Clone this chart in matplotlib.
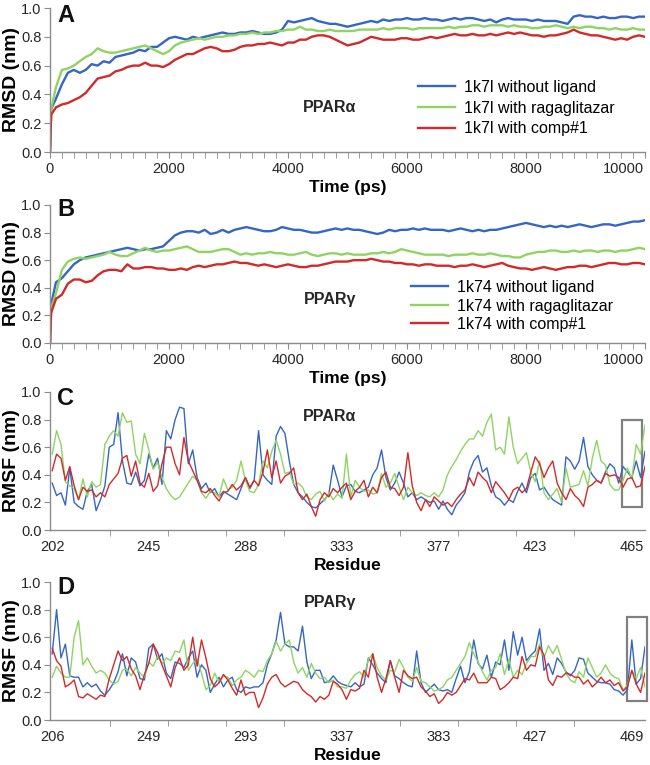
import numpy as np
import matplotlib
matplotlib.use("Agg")
import matplotlib.pyplot as plt
from matplotlib.patches import Rectangle
from matplotlib.ticker import MultipleLocator, FixedLocator, FuncFormatter

plt.rcParams['font.family'] = ['Liberation Sans', 'DejaVu Sans']

# ---------------- data ----------------
time_ps = np.concatenate([[0, 20], np.arange(100, 10001, 100)])

a_without = [0.0, 0.30, 0.37, 0.47, 0.55, 0.57, 0.55, 0.57, 0.61, 0.60, 0.63, 0.62,
             0.66, 0.67, 0.68, 0.69, 0.71, 0.70, 0.73, 0.73, 0.76, 0.79,
             0.80, 0.79, 0.78, 0.80, 0.79, 0.80, 0.81, 0.82, 0.83,
             0.82, 0.82, 0.83, 0.83, 0.84, 0.83, 0.82, 0.82, 0.83, 0.85,
             0.91, 0.90, 0.91, 0.92, 0.93, 0.91, 0.90, 0.89, 0.89, 0.88,
             0.87, 0.88, 0.89, 0.90, 0.91, 0.90, 0.92, 0.91, 0.92, 0.92,
             0.93, 0.92, 0.92, 0.93, 0.92, 0.92, 0.91, 0.92, 0.93, 0.92,
             0.93, 0.93, 0.92, 0.91, 0.92, 0.90, 0.92, 0.93, 0.92, 0.92,
             0.92, 0.91, 0.92, 0.91, 0.91, 0.91, 0.90, 0.89, 0.94, 0.95,
             0.94, 0.94, 0.93, 0.94, 0.93, 0.93, 0.94, 0.94, 0.93, 0.94, 0.94]
a_raga = [0.0, 0.30, 0.45, 0.57, 0.58, 0.60, 0.63, 0.66, 0.68, 0.72, 0.70, 0.69,
          0.69, 0.70, 0.71, 0.72, 0.73, 0.74, 0.72, 0.70, 0.68, 0.70,
          0.74, 0.76, 0.77, 0.78, 0.79, 0.78, 0.79, 0.80, 0.80,
          0.81, 0.81, 0.82, 0.82, 0.83, 0.82, 0.83, 0.83, 0.84, 0.84,
          0.85, 0.85, 0.87, 0.85, 0.85, 0.84, 0.84, 0.85, 0.84, 0.84,
          0.84, 0.84, 0.85, 0.85, 0.85, 0.85, 0.86, 0.85, 0.86, 0.86,
          0.86, 0.85, 0.86, 0.86, 0.86, 0.86, 0.86, 0.87, 0.86, 0.87,
          0.87, 0.88, 0.88, 0.87, 0.88, 0.88, 0.88, 0.87, 0.88, 0.87,
          0.87, 0.86, 0.86, 0.87, 0.87, 0.88, 0.87, 0.86, 0.87, 0.86,
          0.87, 0.87, 0.86, 0.86, 0.85, 0.86, 0.85, 0.85, 0.86, 0.85, 0.85]
a_comp = [0.0, 0.26, 0.31, 0.33, 0.34, 0.36, 0.38, 0.41, 0.46, 0.51, 0.52, 0.53,
          0.56, 0.57, 0.59, 0.60, 0.60, 0.62, 0.60, 0.60, 0.59, 0.61,
          0.64, 0.66, 0.68, 0.68, 0.70, 0.72, 0.73, 0.72, 0.70,
          0.70, 0.71, 0.73, 0.74, 0.74, 0.75, 0.75, 0.76, 0.75, 0.74,
          0.76, 0.76, 0.78, 0.78, 0.80, 0.81, 0.81, 0.80, 0.78, 0.76,
          0.74, 0.75, 0.76, 0.78, 0.80, 0.79, 0.78, 0.78, 0.78, 0.79,
          0.79, 0.78, 0.78, 0.79, 0.80, 0.79, 0.80, 0.81, 0.82, 0.81,
          0.81, 0.82, 0.81, 0.81, 0.82, 0.81, 0.82, 0.83, 0.82, 0.83,
          0.82, 0.81, 0.81, 0.80, 0.81, 0.81, 0.82, 0.83, 0.85, 0.83,
          0.82, 0.81, 0.81, 0.80, 0.79, 0.78, 0.79, 0.78, 0.80, 0.81, 0.80]

b_without = [0.0, 0.28, 0.44, 0.47, 0.52, 0.57, 0.60, 0.62, 0.63, 0.64, 0.65, 0.66,
             0.67, 0.68, 0.69, 0.68, 0.67, 0.68, 0.68, 0.69, 0.70, 0.74,
             0.78, 0.80, 0.81, 0.81, 0.80, 0.82, 0.79, 0.80, 0.82,
             0.80, 0.82, 0.83, 0.84, 0.83, 0.82, 0.81, 0.81, 0.82, 0.84,
             0.83, 0.82, 0.82, 0.81, 0.80, 0.80, 0.81, 0.82, 0.83, 0.82,
             0.83, 0.82, 0.82, 0.81, 0.80, 0.79, 0.80, 0.82, 0.81, 0.82,
             0.82, 0.83, 0.82, 0.83, 0.82, 0.82, 0.82, 0.81, 0.82, 0.83,
             0.82, 0.81, 0.82, 0.81, 0.82, 0.82, 0.83, 0.84, 0.85, 0.86,
             0.87, 0.86, 0.85, 0.84, 0.85, 0.84, 0.85, 0.84, 0.85, 0.86,
             0.85, 0.84, 0.85, 0.86, 0.86, 0.85, 0.86, 0.87, 0.88, 0.88, 0.89]
b_raga = [0.0, 0.25, 0.36, 0.53, 0.59, 0.61, 0.62, 0.61, 0.62, 0.63, 0.64, 0.66,
          0.64, 0.63, 0.63, 0.65, 0.67, 0.69, 0.67, 0.66, 0.67, 0.67,
          0.68, 0.69, 0.70, 0.68, 0.66, 0.66, 0.66, 0.67, 0.68,
          0.68, 0.66, 0.64, 0.65, 0.64, 0.65, 0.65, 0.66, 0.65, 0.65,
          0.64, 0.64, 0.65, 0.66, 0.64, 0.63, 0.64, 0.65, 0.65, 0.64,
          0.65, 0.64, 0.64, 0.64, 0.65, 0.65, 0.66, 0.65, 0.66, 0.68,
          0.67, 0.66, 0.65, 0.64, 0.64, 0.64, 0.64, 0.63, 0.64, 0.64,
          0.64, 0.65, 0.64, 0.64, 0.65, 0.64, 0.63, 0.63, 0.62, 0.62,
          0.64, 0.65, 0.66, 0.66, 0.67, 0.67, 0.66, 0.66, 0.67, 0.66,
          0.67, 0.67, 0.66, 0.67, 0.67, 0.66, 0.67, 0.67, 0.68, 0.69, 0.68]
b_comp = [0.0, 0.22, 0.32, 0.35, 0.43, 0.46, 0.46, 0.44, 0.45, 0.49, 0.52, 0.53,
          0.53, 0.52, 0.57, 0.54, 0.54, 0.55, 0.55, 0.54, 0.54, 0.53,
          0.53, 0.54, 0.53, 0.55, 0.56, 0.55, 0.56, 0.57, 0.57,
          0.58, 0.59, 0.58, 0.58, 0.57, 0.56, 0.57, 0.56, 0.55, 0.56,
          0.57, 0.56, 0.55, 0.55, 0.56, 0.56, 0.57, 0.58, 0.59, 0.59,
          0.59, 0.60, 0.60, 0.60, 0.61, 0.60, 0.59, 0.59, 0.58, 0.58,
          0.57, 0.57, 0.56, 0.57, 0.57, 0.56, 0.56, 0.56, 0.55, 0.56,
          0.56, 0.57, 0.56, 0.55, 0.56, 0.57, 0.58, 0.56, 0.55, 0.54,
          0.54, 0.53, 0.54, 0.55, 0.54, 0.53, 0.54, 0.55, 0.55, 0.56,
          0.56, 0.55, 0.56, 0.57, 0.58, 0.58, 0.57, 0.57, 0.58, 0.58, 0.57]

# residue index (every 2nd residue plotted), tick labels
res_idx = np.arange(0, 271, 2)
c_labels = ['202', '245', '288', '333', '377', '423', '465']
d_labels = ['206', '249', '293', '337', '383', '427', '469']

c_without = [0.34, 0.25, 0.27, 0.18, 0.45, 0.20, 0.17, 0.15, 0.28, 0.33, 0.14, 0.22,
             0.32, 0.60, 0.62, 0.85, 0.50, 0.34, 0.33, 0.42, 0.32, 0.36, 0.55, 0.45,
             0.52, 0.33, 0.72, 0.66, 0.80, 0.89, 0.88, 0.48, 0.58, 0.38, 0.30, 0.34,
             0.27, 0.30, 0.24, 0.28, 0.26, 0.24, 0.22, 0.30, 0.38, 0.30, 0.36, 0.72,
             0.40, 0.36, 0.33, 0.68, 0.75, 0.70, 0.50, 0.33, 0.27, 0.24, 0.20, 0.17,
             0.16, 0.19, 0.22, 0.26, 0.47, 0.36, 0.24, 0.32,
             0.33, 0.28, 0.27, 0.29, 0.31, 0.40, 0.45, 0.58, 0.38, 0.29, 0.34, 0.42,
             0.34, 0.24, 0.27, 0.22, 0.24, 0.22, 0.20, 0.21, 0.15, 0.21, 0.15, 0.11,
             0.18, 0.22, 0.27, 0.42, 0.50, 0.54, 0.42, 0.45, 0.32, 0.24, 0.22, 0.18,
             0.22, 0.20, 0.28, 0.34, 0.27, 0.38, 0.41, 0.29, 0.31, 0.26, 0.22, 0.20,
             0.18, 0.53, 0.50, 0.44, 0.50, 0.67, 0.46, 0.40, 0.36, 0.34, 0.42, 0.48,
             0.45, 0.34, 0.46, 0.42, 0.38, 0.50, 0.38, 0.57]
c_raga = [0.55, 0.72, 0.62, 0.35, 0.32, 0.30, 0.22, 0.37, 0.24, 0.35, 0.31, 0.33,
          0.62, 0.68, 0.72, 0.68, 0.85, 0.78, 0.79, 0.55, 0.48, 0.70, 0.58, 0.44,
          0.49, 0.38, 0.30, 0.25, 0.22, 0.24, 0.29, 0.34, 0.39, 0.36, 0.27, 0.23,
          0.28, 0.27, 0.24, 0.37, 0.29, 0.31, 0.36, 0.50, 0.36, 0.28, 0.27, 0.33,
          0.50, 0.45, 0.57, 0.65, 0.55, 0.41, 0.42, 0.33, 0.34, 0.31, 0.24, 0.22,
          0.26, 0.28, 0.21, 0.27, 0.22, 0.26, 0.23, 0.55,
          0.24, 0.36, 0.31, 0.28, 0.29, 0.26, 0.27, 0.41, 0.31, 0.34, 0.41, 0.31,
          0.22, 0.31, 0.27, 0.25, 0.27, 0.25, 0.24, 0.27, 0.24, 0.29, 0.40, 0.46,
          0.51, 0.57, 0.62, 0.66, 0.66, 0.72, 0.68, 0.78, 0.84, 0.58, 0.60, 0.55,
          0.82, 0.60, 0.48, 0.52, 0.56, 0.42, 0.35, 0.50, 0.27, 0.22, 0.26, 0.30,
          0.20, 0.45, 0.31, 0.32, 0.33, 0.43, 0.32, 0.52, 0.65, 0.50, 0.47, 0.33,
          0.29, 0.29, 0.36, 0.45, 0.37, 0.62, 0.55, 0.76]
c_comp = [0.43, 0.55, 0.52, 0.36, 0.46, 0.32, 0.22, 0.31, 0.28, 0.29, 0.24, 0.27,
          0.24, 0.33, 0.37, 0.41, 0.52, 0.54, 0.39, 0.50, 0.34, 0.31, 0.41, 0.28,
          0.32, 0.48, 0.60, 0.60, 0.48, 0.40, 0.67, 0.50, 0.43, 0.36, 0.28, 0.27,
          0.30, 0.25, 0.21, 0.27, 0.28, 0.33, 0.29, 0.32, 0.38, 0.31, 0.36, 0.32,
          0.42, 0.58, 0.38, 0.50, 0.34, 0.39, 0.41, 0.45, 0.27, 0.22, 0.26, 0.17,
          0.10, 0.22, 0.27, 0.24, 0.30, 0.27, 0.31, 0.34,
          0.22, 0.28, 0.31, 0.36, 0.24, 0.31, 0.27, 0.38, 0.42, 0.31, 0.30, 0.25,
          0.31, 0.56, 0.32, 0.20, 0.14, 0.22, 0.17, 0.24, 0.21, 0.18, 0.20, 0.17,
          0.22, 0.26, 0.29, 0.38, 0.32, 0.42, 0.38, 0.35, 0.27, 0.35, 0.31, 0.27,
          0.22, 0.29, 0.31, 0.27, 0.30, 0.42, 0.53, 0.48, 0.38, 0.45, 0.50, 0.34,
          0.27, 0.22, 0.30, 0.25, 0.22, 0.17, 0.31, 0.33, 0.36, 0.34, 0.41, 0.39,
          0.40, 0.38, 0.31, 0.37, 0.38, 0.31, 0.32, 0.46]

d_without = [0.48, 0.80, 0.45, 0.55, 0.32, 0.31, 0.31, 0.24, 0.27, 0.24, 0.26, 0.21,
             0.18, 0.22, 0.27, 0.35, 0.48, 0.32, 0.45, 0.42, 0.30, 0.29, 0.52, 0.55,
             0.44, 0.48, 0.34, 0.30, 0.42, 0.41, 0.38, 0.45, 0.50, 0.31, 0.40, 0.36,
             0.20, 0.26, 0.31, 0.24, 0.29, 0.31, 0.22, 0.20, 0.24, 0.23, 0.24, 0.24,
             0.27, 0.40, 0.48, 0.58, 0.78, 0.55, 0.53, 0.53, 0.50, 0.68, 0.42, 0.30,
             0.36, 0.36, 0.27, 0.28, 0.32, 0.28, 0.26, 0.25,
             0.24, 0.27, 0.24, 0.26, 0.45, 0.40, 0.34, 0.30, 0.27, 0.43, 0.32, 0.30,
             0.27, 0.25, 0.24, 0.50, 0.27, 0.20, 0.23, 0.26, 0.22, 0.21, 0.22, 0.20,
             0.30, 0.39, 0.27, 0.35, 0.58, 0.41, 0.37, 0.47, 0.31, 0.42, 0.40, 0.58,
             0.36, 0.64, 0.47, 0.60, 0.43, 0.47, 0.50, 0.66, 0.36, 0.41, 0.33, 0.45,
             0.41, 0.35, 0.32, 0.36, 0.45, 0.44, 0.34, 0.31, 0.28, 0.27, 0.27, 0.26,
             0.22, 0.21, 0.18, 0.22, 0.58, 0.26, 0.30, 0.53]
d_raga = [0.31, 0.39, 0.34, 0.31, 0.31, 0.60, 0.72, 0.40, 0.45, 0.39, 0.34, 0.36,
          0.34, 0.29, 0.26, 0.28, 0.36, 0.37, 0.32, 0.38, 0.34, 0.31, 0.42, 0.39,
          0.46, 0.41, 0.45, 0.43, 0.50, 0.49, 0.58, 0.36, 0.41, 0.44, 0.34, 0.22,
          0.25, 0.34, 0.27, 0.32, 0.31, 0.25, 0.29, 0.31, 0.36, 0.34, 0.31, 0.36,
          0.35, 0.43, 0.48, 0.57, 0.50, 0.55, 0.58, 0.42, 0.34, 0.38, 0.31, 0.41,
          0.34, 0.30, 0.31, 0.27, 0.29, 0.24, 0.24, 0.23,
          0.29, 0.33, 0.35, 0.31, 0.44, 0.48, 0.38, 0.32, 0.29, 0.36, 0.35, 0.44,
          0.38, 0.31, 0.28, 0.38, 0.28, 0.27, 0.24, 0.21, 0.22, 0.24, 0.29, 0.31,
          0.36, 0.41, 0.46, 0.56, 0.48, 0.42, 0.35, 0.29, 0.36, 0.38, 0.48, 0.33,
          0.44, 0.31, 0.36, 0.33, 0.41, 0.46, 0.46, 0.55, 0.45, 0.54, 0.48, 0.54,
          0.44, 0.34, 0.29, 0.27, 0.35, 0.31, 0.45, 0.38, 0.31, 0.34, 0.40, 0.34,
          0.31, 0.30, 0.22, 0.25, 0.36, 0.30, 0.38, 0.24]
d_comp = [0.52, 0.43, 0.39, 0.24, 0.26, 0.29, 0.17, 0.16, 0.19, 0.17, 0.15, 0.18,
          0.17, 0.30, 0.40, 0.50, 0.43, 0.46, 0.37, 0.32, 0.22, 0.33, 0.41, 0.55,
          0.49, 0.40, 0.32, 0.24, 0.38, 0.45, 0.36, 0.40, 0.60, 0.39, 0.58, 0.45,
          0.30, 0.24, 0.27, 0.33, 0.29, 0.23, 0.18, 0.29, 0.18, 0.20, 0.20, 0.09,
          0.16, 0.26, 0.31, 0.33, 0.27, 0.24, 0.26, 0.28, 0.27, 0.22, 0.19, 0.17,
          0.13, 0.17, 0.15, 0.18, 0.28, 0.26, 0.22, 0.15,
          0.22, 0.21, 0.23, 0.36, 0.31, 0.48, 0.31, 0.20, 0.30, 0.43, 0.31, 0.20,
          0.36, 0.32, 0.30, 0.31, 0.24, 0.21, 0.17, 0.19, 0.12, 0.15, 0.20, 0.18,
          0.20, 0.25, 0.30, 0.29, 0.34, 0.27, 0.27, 0.27, 0.31, 0.30, 0.22, 0.24,
          0.27, 0.31, 0.30, 0.46, 0.36, 0.40, 0.39, 0.53, 0.47, 0.29, 0.25, 0.32,
          0.31, 0.34, 0.33, 0.31, 0.31, 0.26, 0.29, 0.24, 0.27, 0.31, 0.27, 0.29,
          0.25, 0.27, 0.21, 0.24, 0.36, 0.26, 0.20, 0.34]

legend_a = ['1k7l without ligand', '1k7l with ragaglitazar', '1k7l with comp#1']
legend_b = ['1k74 without ligand', '1k74 with ragaglitazar', '1k74 with comp#1']

# ---------------- style ----------------
BLUE = '#3566c4'
GREEN = '#8fd462'
RED = '#d22a2a'
SPINE = '#8c8c8c'
TXT = '#262626'

W, H = 650, 765
fig = plt.figure(figsize=(W / 100, H / 100), dpi=100)


def px_axes(top, bottom, left=50, right=645):
    return fig.add_axes([left / W, 1 - bottom / H, (right - left) / W, (bottom - top) / H])


def style(ax):
    for s in ['top', 'right']:
        ax.spines[s].set_visible(False)
    for s in ['left', 'bottom']:
        ax.spines[s].set_color(SPINE)
        ax.spines[s].set_linewidth(1.0)
    ax.set_ylim(0, 1.0)
    ax.yaxis.set_major_locator(MultipleLocator(0.2))
    ax.yaxis.set_major_formatter(plt.FormatStrFormatter('%.1f'))
    ax.tick_params(axis='y', direction='out', length=4, color=SPINE,
                   labelsize=10.5, labelcolor=TXT, pad=2)
    ax.tick_params(axis='x', which='both', direction='out', color=SPINE,
                   labelsize=10.5, labelcolor=TXT)
    ax.yaxis.set_label_coords(-0.051, 0.5)


panels = [(8, 152), (205, 343), (392, 530), (582, 720)]
axA = px_axes(*panels[0])
axB = px_axes(*panels[1])
axC = px_axes(*panels[2])
axD = px_axes(*panels[3])


def time_fmt(v, pos):
    return '' if v >= 10000 else '%d' % v


for ax, series, labels, leg_xy in [
        (axA, (a_without, a_raga, a_comp), legend_a, (418, 108, 0.35)),
        (axB, (b_without, b_raga, b_comp), legend_b, (411, 306, 0.22))]:
    for vals, col, lab in zip(series, (BLUE, GREEN, RED), labels):
        ax.plot(time_ps, vals, color=col, lw=1.7, label=lab)
    style(ax)
    ax.set_xlim(0, 10000)
    ax.xaxis.set_major_locator(MultipleLocator(2000))
    ax.xaxis.set_major_formatter(FuncFormatter(time_fmt))
    ax.xaxis.set_minor_locator(MultipleLocator(200))
    ax.tick_params(axis='x', which='both', length=4, pad=3)
    ax.annotate('10000', xy=(10000, 0), xycoords=('data', 'axes fraction'),
                xytext=(-1, -7), textcoords='offset points', ha='right', va='top',
                fontsize=10.5, color=TXT, annotation_clip=False)
    ax.set_xlabel('Time (ps)', fontsize=12.5, fontweight='bold', labelpad=3)
    ax.set_ylabel('RMSD (nm)', fontsize=14, fontweight='bold')
    lx, ly, ls = leg_xy
    ax.legend(loc='center left', bbox_to_anchor=(lx / W, 1 - ly / H),
              bbox_transform=fig.transFigure, frameon=False, fontsize=11.5,
              handlelength=2.3, handletextpad=0.6, labelspacing=ls,
              borderpad=0, borderaxespad=0)

for ax, series, labels in [
        (axC, (c_without, c_raga, c_comp), c_labels),
        (axD, (d_without, d_raga, d_comp), d_labels)]:
    for vals, col in zip(series, (BLUE, GREEN, RED)):
        ax.plot(res_idx, vals, color=col, lw=1.0)
    style(ax)
    ax.set_xlim(-1, 270)
    ax.xaxis.set_major_locator(FixedLocator(np.arange(0, 265, 44)))
    ax.set_xticklabels(labels)
    ax.xaxis.set_minor_locator(FixedLocator(np.linspace(0, 264, 11)))
    ax.tick_params(axis='x', which='major', length=0, pad=7)
    ax.tick_params(axis='x', which='minor', length=4)
    ax.set_xlabel('Residue', fontsize=12.5, fontweight='bold', labelpad=3)
    ax.set_ylabel('RMSF (nm)', fontsize=14, fontweight='bold')

# highlight boxes
axC.add_patch(Rectangle((259.4, 0.17), 9.1, 0.63, fill=False, ec='#808080', lw=1.6, clip_on=False))
axD.add_patch(Rectangle((262.0, 0.14), 9.0, 0.61, fill=False, ec='#808080', lw=1.6, clip_on=False))

# panel titles and letters
for (x, y, s) in [(330, 108, 'PPARα'), (330, 300, 'PPARγ'), (330, 417, 'PPARα'), (330, 603, 'PPARγ')]:
    fig.text(x / W, 1 - y / H, s, ha='center', va='center', fontsize=11.5,
             fontweight='bold', color=TXT)
for (x, y, s) in [(57, 15, 'A'), (57, 210, 'B'), (57, 398, 'C'), (57, 588, 'D')]:
    fig.text(x / W, 1 - y / H, s, ha='left', va='center', fontsize=17,
             fontweight='bold', color='#111111')

fig.savefig('out.png', dpi=100)
